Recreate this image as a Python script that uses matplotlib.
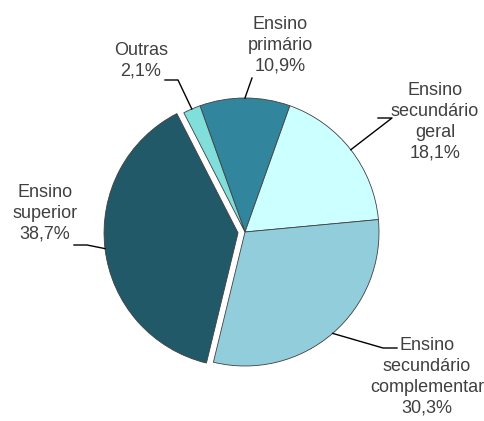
import math
import matplotlib
matplotlib.use("Agg")
import matplotlib.pyplot as plt

categories = ["Ensino\nprimário", "Ensino\nsecundário\ngeral", "Ensino\nsecundário\ncomplementar",
              "Ensino\nsuperior", "Outras"]
values = [10.9, 18.1, 30.3, 38.7, 2.1]
pct_labels = ["10,9%", "18,1%", "30,3%", "38,7%", "2,1%"]
colors = ["#31859C", "#CCFFFF", "#92CDDC", "#215968", "#80DEDB"]

plt.rcParams['font.family'] = ["Liberation Sans", 'DejaVu Sans']

W, H = 484, 421
fig = plt.figure(figsize=(W / 100, H / 100), dpi=100)
ax = fig.add_axes([0, 0, 1, 1])

cx, cy, R = 245, H - 232, 134
explode = [0, 0, 0, 7, 0]
start = 90 + values[0] / 2 * 3.6
wedges, _ = ax.pie(values, colors=colors, startangle=start, counterclock=False,
                   center=(cx, cy), radius=R, explode=explode, frame=True,
                   wedgeprops=dict(edgecolor="#404040", linewidth=0.6))
ax.set_xlim(0, W)
ax.set_ylim(0, H)
ax.set_aspect('equal')
ax.axis('off')

# text block centres (px from top) and leader elbow points
text_pos = [(280, 45), (435, 122), (427, 377), (45, 213), (141, 61)]
elbows = [None, ((392, 118), (378, 118)), ((383, 348), (397, 348)),
          ((87, 245), (74, 245)), ((178, 80), (165, 80))]
line_end_primario = (252, 78)

for i, w in enumerate(wedges):
    tm = math.radians((w.theta1 + w.theta2) / 2)
    wx, wy = w.center
    ex = wx + w.r * math.cos(tm)
    ey = wy + w.r * math.sin(tm)
    tx, ty = text_pos[i]
    ax.text(tx, H - ty, categories[i] + "\n" + pct_labels[i], ha='center', va='center',
            fontsize=13, color="#404040", linespacing=1.3)
    if elbows[i] is None:
        px, py = line_end_primario
        ax.plot([ex, px], [ey, H - py], color='black', lw=1)
    else:
        (ax1, ay1), (ax2, ay2) = elbows[i]
        ax.plot([ex, ax1, ax2], [ey, H - ay1, H - ay2], color='black', lw=1)

fig.savefig("out.png", dpi=100)
